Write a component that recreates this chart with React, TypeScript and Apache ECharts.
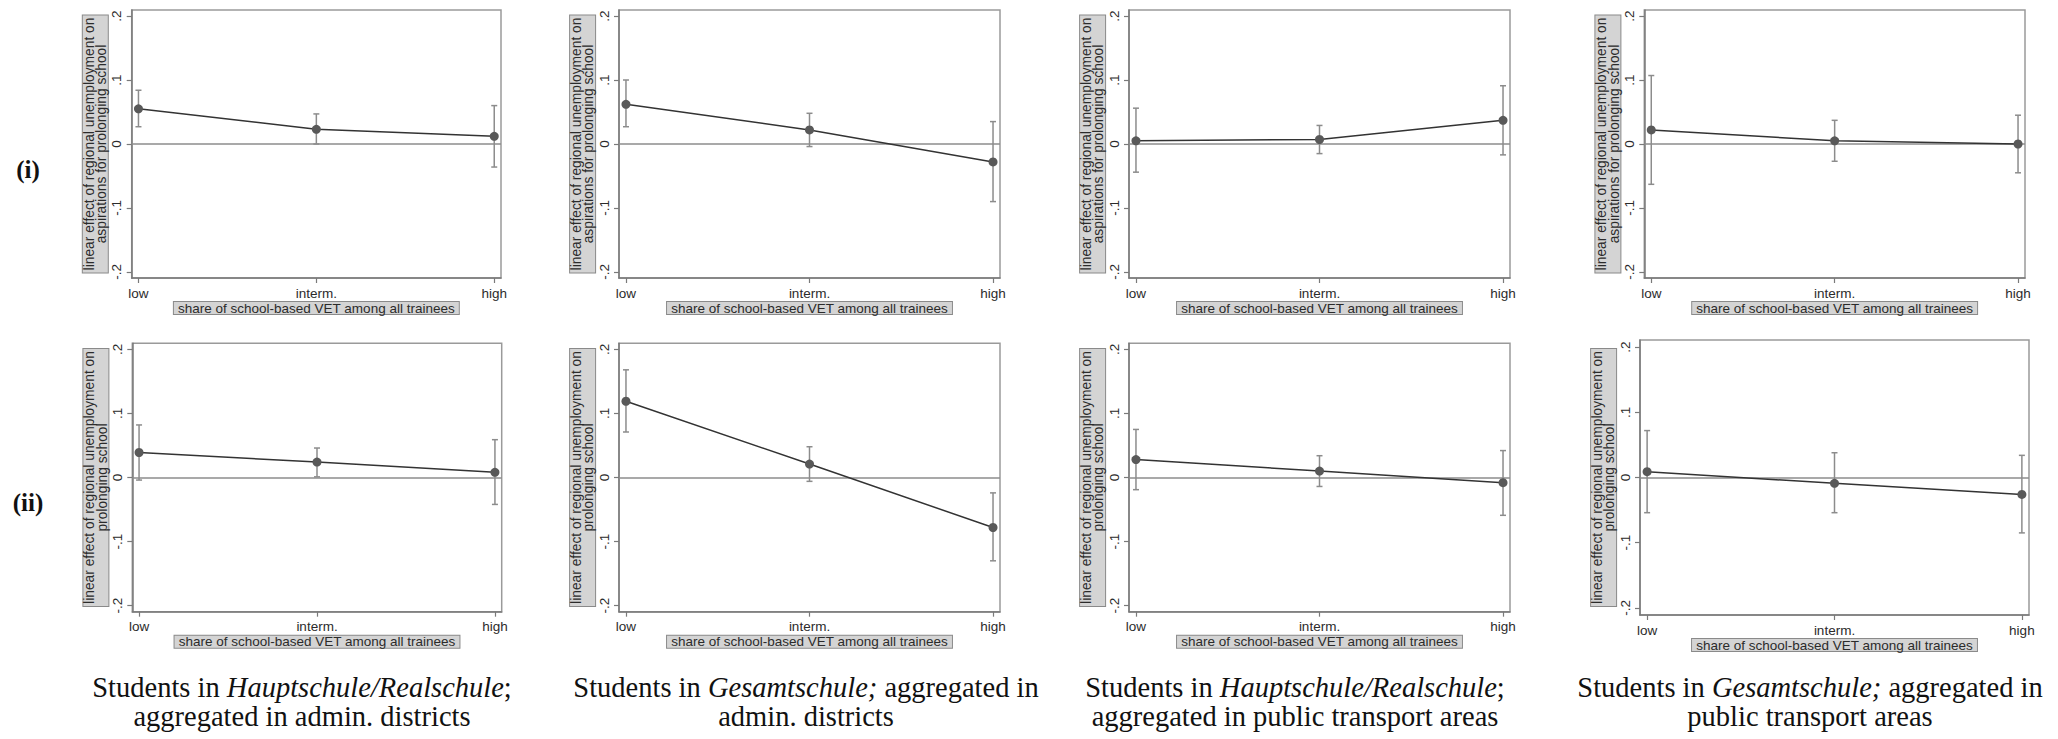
import React, { useEffect, useRef } from "react";
import * as echarts from "echarts";

// ---------- data ----------
const categories = ["low", "interm.", "high"];
const yTickValues = [-0.2, -0.1, 0, 0.1, 0.2];
const xTickValues = [0, 1, 2];

const yTitleRow1 = ["linear effect of regional unemployment on", "aspirations for prolonging school"];
const yTitleRow2 = ["linear effect of regional unemployment on", "prolonging school"];
const xTitle = "share of school-based VET among all trainees";

// (i) aspirations for prolonging school
const estHRAdmin1 = [0.055, 0.023, 0.012];
const loHRAdmin1 = [0.027, 0.0, -0.036];
const hiHRAdmin1 = [0.084, 0.047, 0.06];

const estGesAdmin1 = [0.062, 0.022, -0.028];
const loGesAdmin1 = [0.027, -0.004, -0.09];
const hiGesAdmin1 = [0.1, 0.048, 0.035];

const estHRTrans1 = [0.005, 0.007, 0.037];
const loHRTrans1 = [-0.044, -0.015, -0.017];
const hiHRTrans1 = [0.056, 0.029, 0.091];

const estGesTrans1 = [0.022, 0.005, 0.0];
const loGesTrans1 = [-0.063, -0.027, -0.045];
const hiGesTrans1 = [0.107, 0.037, 0.045];

// (ii) prolonging school
const estHRAdmin2 = [0.039, 0.024, 0.008];
const loHRAdmin2 = [-0.004, 0.001, -0.042];
const hiHRAdmin2 = [0.082, 0.046, 0.059];

const estGesAdmin2 = [0.119, 0.021, -0.078];
const loGesAdmin2 = [0.071, -0.006, -0.13];
const hiGesAdmin2 = [0.168, 0.048, -0.024];

const estHRTrans2 = [0.028, 0.01, -0.008];
const loHRTrans2 = [-0.019, -0.014, -0.059];
const hiHRTrans2 = [0.075, 0.034, 0.042];

const estGesTrans2 = [0.009, -0.009, -0.026];
const loGesTrans2 = [-0.054, -0.054, -0.085];
const hiGesTrans2 = [0.072, 0.038, 0.034];

const panelData = [
  { est: estHRAdmin1, lo: loHRAdmin1, hi: hiHRAdmin1, yTitle: yTitleRow1 },
  { est: estGesAdmin1, lo: loGesAdmin1, hi: hiGesAdmin1, yTitle: yTitleRow1 },
  { est: estHRTrans1, lo: loHRTrans1, hi: hiHRTrans1, yTitle: yTitleRow1 },
  { est: estGesTrans1, lo: loGesTrans1, hi: hiGesTrans1, yTitle: yTitleRow1 },
  { est: estHRAdmin2, lo: loHRAdmin2, hi: hiHRAdmin2, yTitle: yTitleRow2 },
  { est: estGesAdmin2, lo: loGesAdmin2, hi: hiGesAdmin2, yTitle: yTitleRow2 },
  { est: estHRTrans2, lo: loHRTrans2, hi: hiHRTrans2, yTitle: yTitleRow2 },
  { est: estGesTrans2, lo: loGesTrans2, hi: hiGesTrans2, yTitle: yTitleRow2 },
];

// ---------- layout ----------
const GRIDS = [
  { left: 131.7, top: 10, width: 369.3, height: 268, ypad: 0.2094 },
  { left: 619, top: 10, width: 381, height: 268, ypad: 0.2094 },
  { left: 1129, top: 10, width: 381, height: 268, ypad: 0.2094 },
  { left: 1644.3, top: 10, width: 380.7, height: 268, ypad: 0.2094 },
  { left: 132.3, top: 343.3, width: 369.4, height: 268.4, ypad: 0.2094 },
  { left: 619, top: 343.3, width: 381, height: 268.4, ypad: 0.2094 },
  { left: 1129, top: 343.3, width: 381, height: 268.4, ypad: 0.2094 },
  { left: 1640, top: 340, width: 389, height: 275, ypad: 0.211 },
];
const XPAD = 0.038;

const captions = [
  { x: 302, l1: "{n|Students in }{i|Hauptschule/Realschule}{n|;}", l2: "aggregated in admin. districts" },
  { x: 806, l1: "{n|Students in }{i|Gesamtschule;}{n| aggregated in}", l2: "admin. districts" },
  { x: 1295, l1: "{n|Students in }{i|Hauptschule/Realschule}{n|;}", l2: "aggregated in public transport areas" },
  { x: 1810, l1: "{n|Students in }{i|Gesamtschule;}{n| aggregated in}", l2: "public transport areas" },
];
const rowLabels = [
  { text: "(i)", x: 28, y: 169 },
  { text: "(ii)", x: 28, y: 502 },
];

const SANS = "'Liberation Sans', Arial, Helvetica, sans-serif";
const SERIF = "'Liberation Serif', 'Times New Roman', serif";
const AXIS_COLOR = "#7a7a7a";
const TEXT_COLOR = "#2b2b2b";
const BOX_FILL = "#d4d4d4";
const BOX_BORDER = "#8a8a8a";
const CI_COLOR = "#8c8c8c";
const CAP_SIZE = 28.5;

function yFmt(v: number) {
  if (Math.abs(v) < 1e-9) return "0";
  const s = "." + Math.round(Math.abs(v) * 10);
  return v < 0 ? "-" + s : s;
}

function buildOption() {
  const grid = GRIDS.map((g) => ({
    left: g.left,
    top: g.top,
    width: g.width,
    height: g.height,
    show: true,
    borderColor: "#9a9a9a",
    borderWidth: 1.5,
    backgroundColor: "#ffffff",
    containLabel: false,
  }));

  const xAxis = GRIDS.map((g, i) => ({
    type: "value",
    gridIndex: i,
    min: -XPAD,
    max: 2 + XPAD,
    splitLine: { show: false },
    axisLine: { show: true, onZero: false, lineStyle: { color: AXIS_COLOR, width: 1.5 } },
    axisTick: { show: true, length: 5, customValues: xTickValues, lineStyle: { color: AXIS_COLOR, width: 1.2 } },
    axisLabel: {
      show: true,
      customValues: xTickValues,
      formatter: (v: number) => categories[Math.round(v)] ?? "",
      color: TEXT_COLOR,
      fontFamily: SANS,
      fontSize: 13.5,
      margin: 8,
    },
    name: xTitle,
    nameLocation: "middle",
    nameGap: 24,
    nameTextStyle: {
      color: TEXT_COLOR,
      fontFamily: SANS,
      fontSize: 13.5,
      lineHeight: 12,
      backgroundColor: BOX_FILL,
      borderColor: BOX_BORDER,
      borderWidth: 1,
      padding: [0, 4, 0, 4],
    },
  }));

  const yAxis = GRIDS.map((g, i) => ({
    type: "value",
    gridIndex: i,
    min: -g.ypad,
    max: g.ypad,
    splitLine: { show: false },
    axisLine: { show: true, onZero: false, lineStyle: { color: AXIS_COLOR, width: 1.5 } },
    axisTick: { show: true, length: 5, customValues: yTickValues, lineStyle: { color: AXIS_COLOR, width: 1.2 } },
    axisLabel: {
      show: true,
      customValues: yTickValues,
      formatter: yFmt,
      rotate: 90,
      color: TEXT_COLOR,
      fontFamily: SANS,
      fontSize: 13.5,
      margin: 8,
    },
    name: panelData[i].yTitle.join("\n"),
    nameLocation: "middle",
    nameRotate: 90,
    nameGap: 19,
    nameTextStyle: {
      color: TEXT_COLOR,
      fontFamily: SANS,
      fontSize: 13.8,
      lineHeight: 12.5,
      align: "center",
      backgroundColor: BOX_FILL,
      borderColor: BOX_BORDER,
      borderWidth: 1,
      padding: [0, 2, 0, 2],
    },
  }));

  const series: any[] = [];
  panelData.forEach((p, i) => {
    series.push({
      type: "custom",
      xAxisIndex: i,
      yAxisIndex: i,
      z: 2,
      silent: true,
      encode: { x: 0, y: [1, 2] },
      data: categories.map((_, k) => [k, p.lo[k], p.hi[k]]),
      renderItem: (params: any, api: any) => {
        const x = api.value(0);
        const a = api.coord([x, api.value(1)]);
        const b = api.coord([x, api.value(2)]);
        const w = 3;
        const st = { stroke: CI_COLOR, lineWidth: 1.5 };
        return {
          type: "group",
          children: [
            { type: "line", shape: { x1: a[0], y1: a[1], x2: b[0], y2: b[1] }, style: st },
            { type: "line", shape: { x1: a[0] - w, y1: a[1], x2: a[0] + w, y2: a[1] }, style: st },
            { type: "line", shape: { x1: b[0] - w, y1: b[1], x2: b[0] + w, y2: b[1] }, style: st },
          ],
        };
      },
    });
    series.push({
      type: "line",
      xAxisIndex: i,
      yAxisIndex: i,
      z: 3,
      data: p.est.map((v, k) => [k, v]),
      symbol: "circle",
      symbolSize: 9,
      showSymbol: true,
      itemStyle: { color: "#595959" },
      lineStyle: { color: "#333333", width: 1.5 },
      markLine: {
        silent: true,
        symbol: ["none", "none"],
        label: { show: false },
        lineStyle: { color: CI_COLOR, width: 1.5, type: "solid" },
        data: [{ yAxis: 0 }],
        z: 1,
      },
    });
  });

  const graphic: any[] = [];
  captions.forEach((c) => {
    const rich = {
      n: { fontFamily: SERIF, fontSize: CAP_SIZE, fill: "#111111" },
      i: { fontFamily: SERIF, fontSize: CAP_SIZE, fontStyle: "italic", fill: "#111111" },
    };
    graphic.push({
      type: "text",
      x: c.x,
      y: 687,
      style: { text: c.l1, rich, font: `${CAP_SIZE}px ${SERIF}`, fill: "#111111", align: "center", verticalAlign: "middle" },
    });
    graphic.push({
      type: "text",
      x: c.x,
      y: 716,
      style: { text: c.l2, font: `${CAP_SIZE}px ${SERIF}`, fill: "#111111", align: "center", verticalAlign: "middle" },
    });
  });
  rowLabels.forEach((r) => {
    graphic.push({
      type: "text",
      x: r.x,
      y: r.y,
      style: { text: r.text, font: `bold 25px ${SERIF}`, fill: "#111111", align: "center", verticalAlign: "middle" },
    });
  });

  return {
    animation: false,
    backgroundColor: "#ffffff",
    grid,
    xAxis,
    yAxis,
    series,
    graphic,
  };
}

export default function App() {
  const ref = useRef<HTMLDivElement>(null);
  useEffect(() => {
    document.body.style.margin = "0";
    if (!ref.current) return;
    const chart = echarts.init(ref.current, null, { renderer: "svg" });
    chart.setOption(buildOption() as any);
    return () => {
      chart.dispose();
    };
  }, []);
  return <div ref={ref} style={{ width: 2058, height: 739 }} />;
}
